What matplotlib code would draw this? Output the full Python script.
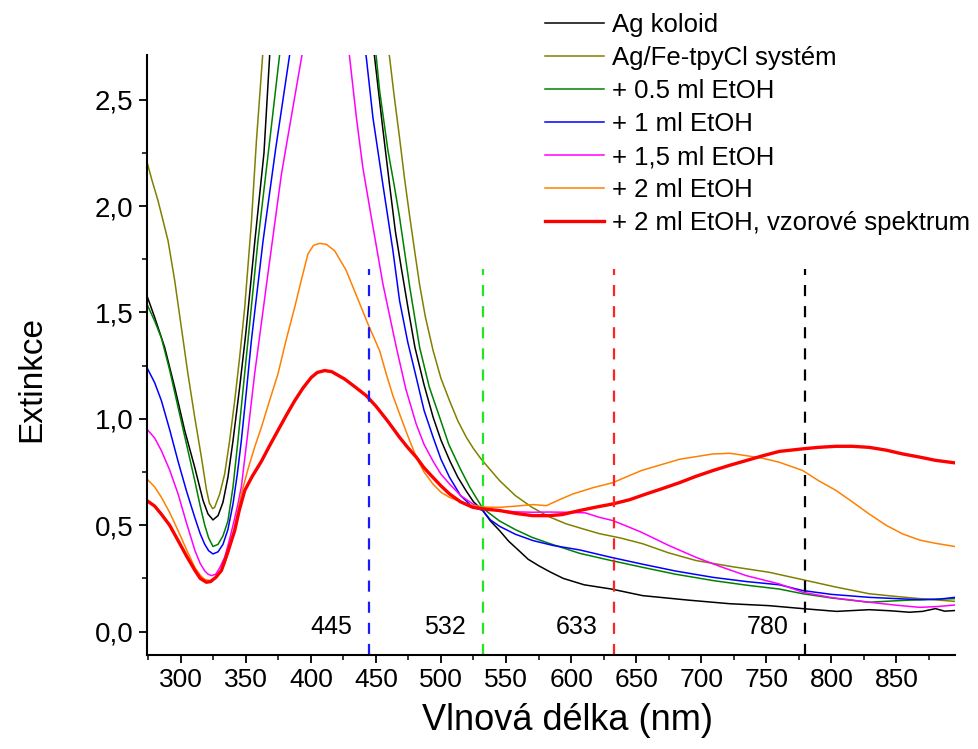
import matplotlib
matplotlib.use("Agg")
import matplotlib.pyplot as plt
from matplotlib.ticker import MultipleLocator, FuncFormatter

plt.rcParams['font.family'] = ['Liberation Sans', 'DejaVu Sans']

# spektra (vlnová délka nm, extinkce); nad 2,7 je mimo graf
ag_x = [274, 280, 287.7, 295.4, 303.1, 310.8, 317.2, 321, 324.8, 328.7, 332.5, 336.3, 340.2,
        345.3, 350, 357, 364, 368.4, 385, 408, 430, 449, 455, 460.5, 465, 469.5, 475, 480,
        487, 494, 500, 507, 513, 519.5, 525, 532, 538, 545, 552, 560, 567, 575, 584, 594,
        610, 631, 655, 690, 722, 752, 778, 804, 829, 845, 860, 870, 880, 887, 895]
ag_y = [1.58, 1.477, 1.336, 1.148, 0.945, 0.772, 0.616, 0.553, 0.525, 0.545, 0.608, 0.725,
        0.897, 1.148, 1.40, 1.837, 2.25, 2.71, 3.5, 3.8, 3.5, 2.70, 2.38, 2.10, 1.88, 1.71,
        1.51, 1.336, 1.16, 1.007, 0.90, 0.80, 0.725, 0.66, 0.61, 0.57, 0.52, 0.475, 0.425,
        0.38, 0.34, 0.31, 0.28, 0.25, 0.22, 0.20, 0.169, 0.148, 0.131, 0.122, 0.108, 0.095,
        0.103, 0.098, 0.091, 0.095, 0.108, 0.096, 0.099]

fe_x = [274, 278, 282.6, 286.5, 290.3, 295.4, 300.5, 305.6, 310.8, 315.9, 319.7, 322, 324.5,
        326.1, 330, 333.8, 337.6, 341.5, 345.3, 349.2, 354.3, 358.2, 363, 385, 412, 440,
        460.5, 464, 468, 472, 476, 480, 483.6, 488, 494, 500, 506.6, 513, 519.5, 525, 531,
        538, 545, 557, 570, 583, 596, 609, 622, 638, 655, 675, 696, 724, 752, 778, 803, 829,
        850, 868, 895]
fe_y = [2.21, 2.12, 2.025, 1.93, 1.837, 1.65, 1.43, 1.21, 1.007, 0.82, 0.67, 0.605, 0.578,
        0.584, 0.647, 0.741, 0.897, 1.085, 1.289, 1.524, 1.92, 2.307, 2.71, 3.5, 3.9, 3.5,
        2.70, 2.52, 2.33, 2.13, 1.95, 1.78, 1.63, 1.48, 1.32, 1.19, 1.085, 0.99, 0.913, 0.86,
        0.81, 0.76, 0.71, 0.64, 0.584, 0.54, 0.507, 0.483, 0.46, 0.44, 0.413, 0.37, 0.334,
        0.305, 0.279, 0.244, 0.21, 0.178, 0.165, 0.155, 0.142]

e05_x = [274, 280, 285.2, 291.5, 298, 304.5, 310.8, 315, 318.5, 321.5, 324.8, 328.7, 332.5,
         336.3, 340.2, 344, 347.8, 351.7, 359.4, 368.4, 376, 395, 412, 435, 450.3, 452.9,
         459.3, 464, 468.2, 476, 483.6, 491, 499, 506, 514.3, 522, 532, 545, 557, 570, 583,
         596, 606.5, 630, 655, 680, 709, 735, 760, 778, 800, 829, 850, 868, 895]
e05_y = [1.54, 1.46, 1.38, 1.23, 1.054, 0.88, 0.71, 0.59, 0.50, 0.44, 0.40, 0.41, 0.45, 0.52,
         0.68, 0.897, 1.13, 1.367, 1.837, 2.307, 2.71, 3.4, 3.6, 3.4, 2.70, 2.54, 2.26, 2.10,
         1.947, 1.62, 1.336, 1.15, 1.007, 0.88, 0.772, 0.68, 0.58, 0.52, 0.48, 0.443, 0.415,
         0.389, 0.368, 0.335, 0.302, 0.27, 0.24, 0.218, 0.20, 0.178, 0.158, 0.138, 0.145,
         0.15, 0.155]

e1_x = [274, 280, 285.2, 291.5, 298, 304.5, 310.8, 315, 318.5, 321.5, 324.8, 328.7, 332.5,
        336.3, 340.2, 343.5, 346.6, 350.5, 354.3, 363.3, 373, 383.7, 400, 413, 428, 442.6,
        447.7, 455.4, 463.1, 468.2, 474.5, 481, 487, 494, 500, 506.6, 515, 524.5, 532, 538,
        545, 557, 570.6, 586, 606.5, 630, 654, 680, 709, 735, 760, 778, 800, 829, 850, 868,
        882, 895]
e1_y = [1.242, 1.17, 1.085, 0.95, 0.80, 0.66, 0.537, 0.46, 0.41, 0.38, 0.365, 0.375, 0.41,
        0.48, 0.60, 0.74, 0.897, 1.13, 1.367, 1.837, 2.27, 2.71, 3.3, 3.5, 3.3, 2.70, 2.417,
        2.10, 1.79, 1.555, 1.36, 1.195, 1.04, 0.913, 0.81, 0.725, 0.64, 0.584, 0.57, 0.525,
        0.495, 0.458, 0.428, 0.405, 0.384, 0.35, 0.318, 0.285, 0.255, 0.235, 0.22, 0.193,
        0.175, 0.161, 0.155, 0.15, 0.152, 0.161]

e15_x = [274, 280, 285.2, 291.5, 298, 304.5, 311, 315, 318.5, 321, 323.6, 327, 330, 333.8,
         337, 341, 344, 346.6, 351.5, 356.8, 367, 377.4, 385, 393.2, 405, 412, 420, 429.8,
         435, 440, 446.5, 455.4, 465.7, 473, 481, 487, 494, 500, 506.6, 515, 524.5, 532,
         545, 557, 570.6, 583, 596, 611, 621.8, 632, 643, 654, 675, 696, 715, 734.6, 760,
         778, 800, 829, 850, 868, 882, 895]
e15_y = [0.952, 0.91, 0.85, 0.76, 0.647, 0.51, 0.38, 0.32, 0.285, 0.27, 0.263, 0.27, 0.30,
         0.349, 0.42, 0.52, 0.60, 0.68, 0.93, 1.21, 1.68, 2.15, 2.42, 2.71, 3.2, 3.3, 3.2,
         2.70, 2.417, 2.18, 1.947, 1.634, 1.336, 1.14, 0.975, 0.88, 0.80, 0.74, 0.694, 0.64,
         0.60, 0.58, 0.569, 0.563, 0.561, 0.562, 0.561, 0.558, 0.537, 0.522, 0.495, 0.467,
         0.405, 0.349, 0.305, 0.263, 0.224, 0.185, 0.16, 0.138, 0.124, 0.114, 0.118, 0.125]

e2_x = [274, 280, 285.2, 291.5, 298, 304.5, 311, 315, 318.5, 322.3, 326, 330, 333.8, 338, 342,
        346.6, 352, 357, 362, 368, 374.7, 381, 387.6, 393, 397.8, 402, 406.8, 412, 418.3,
        427, 435, 443.9, 452.9, 458, 463, 468.2, 474.5, 481, 487, 493.8, 500, 506.6, 515,
        524.5, 535, 545, 558, 570.6, 581, 591, 601.4, 616, 632, 654, 683.3, 709, 722, 734.6,
        747, 760, 778, 790, 803.7, 816, 829, 842, 854.8, 868, 880, 895]
e2_y = [0.718, 0.68, 0.631, 0.56, 0.475, 0.385, 0.30, 0.265, 0.245, 0.24, 0.25, 0.28, 0.318,
        0.40, 0.51, 0.647, 0.77, 0.87, 0.96, 1.08, 1.21, 1.37, 1.524, 1.66, 1.775, 1.815,
        1.825, 1.82, 1.79, 1.70, 1.58, 1.446, 1.32, 1.21, 1.11, 1.023, 0.92, 0.82, 0.75,
        0.694, 0.655, 0.631, 0.61, 0.592, 0.585, 0.584, 0.59, 0.597, 0.592, 0.62, 0.647,
        0.675, 0.70, 0.757, 0.81, 0.835, 0.838, 0.827, 0.815, 0.796, 0.757, 0.71, 0.663,
        0.61, 0.553, 0.50, 0.459, 0.43, 0.415, 0.40]

vz_x = [274, 280, 285, 291.5, 298, 304.5, 311, 315, 319.7, 323, 327, 331.3, 336, 341.5, 345,
        349.2, 355, 362, 368, 374.7, 381, 387.6, 394, 400.4, 405, 410.6, 416, 426, 434,
        442.6, 450, 459, 468.2, 474.5, 481, 487, 493.8, 500, 506.6, 515, 524.5, 535, 545,
        558, 570.6, 583.4, 593, 606.5, 619, 632, 645, 657.7, 670, 683.3, 696, 709, 722,
        734.6, 747, 760, 778, 790, 803.7, 816, 829, 842, 854.8, 868, 880, 895]
vz_y = [0.616, 0.59, 0.553, 0.50, 0.428, 0.355, 0.287, 0.25, 0.232, 0.235, 0.255, 0.287, 0.37,
        0.475, 0.57, 0.663, 0.73, 0.80, 0.87, 0.945, 1.015, 1.085, 1.145, 1.195, 1.218, 1.227,
        1.222, 1.187, 1.15, 1.109, 1.06, 0.99, 0.913, 0.865, 0.82, 0.77, 0.725, 0.685, 0.647,
        0.61, 0.584, 0.575, 0.569, 0.555, 0.545, 0.545, 0.55, 0.569, 0.585, 0.60, 0.62,
        0.647, 0.672, 0.70, 0.73, 0.757, 0.782, 0.804, 0.826, 0.847, 0.859, 0.866, 0.871,
        0.871, 0.866, 0.853, 0.835, 0.82, 0.805, 0.793]

lasery = [445, 532, 633, 780]
laser_barvy = ['#1a1aff', '#22e622', '#ff2222', 'black']

fig = plt.figure(figsize=(9.79, 7.49), dpi=100)
ax = fig.add_axes([0.150, 0.1255, 0.8255, 0.801])

ax.plot(ag_x, ag_y, color='black', lw=1.1, label='Ag koloid')
ax.plot(fe_x, fe_y, color='#808000', lw=1.1, label='Ag/Fe-tpyCl systém')
ax.plot(e05_x, e05_y, color='#008000', lw=1.1, label='+ 0.5 ml EtOH')
ax.plot(e1_x, e1_y, color='#0000ff', lw=1.1, label='+ 1 ml EtOH')
ax.plot(e15_x, e15_y, color='#ff00ff', lw=1.1, label='+ 1,5 ml EtOH')
ax.plot(e2_x, e2_y, color='#ff8000', lw=1.1, label='+ 2 ml EtOH')
ax.plot(vz_x, vz_y, color='#ff0000', lw=2.4, label='+ 2 ml EtOH, vzorové spektrum')

for wl, c in zip(lasery, laser_barvy):
    ax.vlines(wl, -0.11, 1.706, colors=c, lw=1.6, linestyles=(0, (5, 4.5)))
    ax.text(wl - 13, 0.02, str(wl), ha='right', va='center', fontsize=18)

ax.set_xlim(274, 895)
ax.set_ylim(-0.11, 2.71)
ax.xaxis.set_major_locator(MultipleLocator(50))
ax.xaxis.set_minor_locator(MultipleLocator(25))
ax.yaxis.set_major_locator(MultipleLocator(0.5))
ax.yaxis.set_minor_locator(MultipleLocator(0.25))
ax.yaxis.set_major_formatter(FuncFormatter(lambda v, p: f'{v:.1f}'.replace('.', ',')))

ax.spines['top'].set_visible(False)
ax.spines['right'].set_visible(False)
for s in ['left', 'bottom']:
    ax.spines[s].set_linewidth(1.5)
ax.tick_params(which='major', direction='out', length=6, width=1.3, labelsize=19)
ax.tick_params(axis='y', which='major', labelsize=20)
ax.tick_params(which='minor', direction='out', length=3.5, width=1.1)

ax.set_xlabel('Vlnová délka (nm)', fontsize=26)
ax.set_ylabel('Extinkce', fontsize=24)
ax.xaxis.set_label_coords(0.52, -0.08)
ax.yaxis.set_label_coords(-0.123, 0.46)

ax.legend(loc='upper left', bbox_to_anchor=(545 / 979, 0.982), bbox_transform=fig.transFigure,
          frameon=False, fontsize=18.5, borderpad=0, labelspacing=0.35, handlelength=2.3,
          handletextpad=0.3, borderaxespad=0)

fig.savefig('out.png', dpi=100)
